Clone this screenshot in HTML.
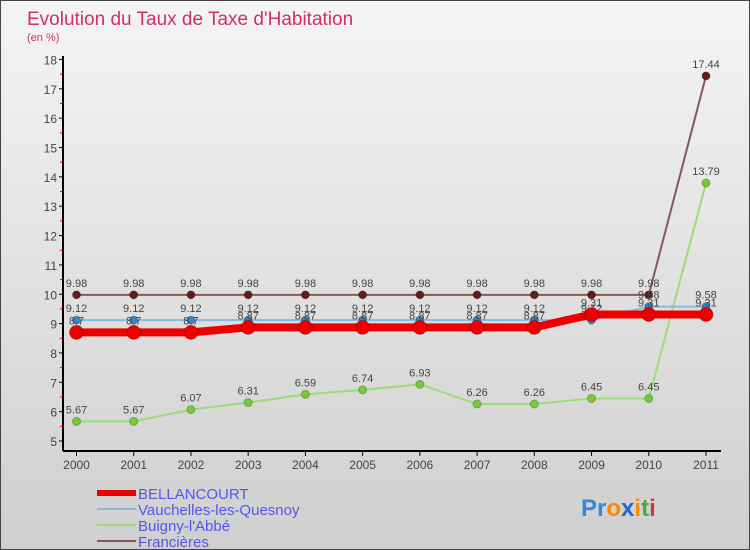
<!DOCTYPE html>
<html><head><meta charset="utf-8"><style>
body{margin:0}
#c{width:750px;height:550px;position:relative;font-family:"Liberation Sans",sans-serif;background:linear-gradient(#f4f4f4,#cfcfcf);box-sizing:border-box;border:1px solid #444;overflow:hidden}
</style></head><body>
<div id="c">
<svg id="s" width="750" height="550" style="position:absolute;left:0;top:0"></svg>
</div>
<script>
const years=["2000","2001","2002","2003","2004","2005","2006","2007","2008","2009","2010","2011"];
const bellancourt=[8.7,8.7,8.7,8.87,8.87,8.87,8.87,8.87,8.87,9.31,9.31,9.31];
const vauchelles=[9.12,9.12,9.12,9.12,9.12,9.12,9.12,9.12,9.12,9.12,9.58,9.58];
const buigny=[5.67,5.67,6.07,6.31,6.59,6.74,6.93,6.26,6.26,6.45,6.45,13.79];
const francieres=[9.98,9.98,9.98,9.98,9.98,9.98,9.98,9.98,9.98,9.98,9.98,17.44];
const yTicks=[5,6,7,8,9,10,11,12,13,14,15,16,17,18];
const NS="http://www.w3.org/2000/svg";
const svg=document.getElementById('s');
function X(i){return 75.5+i*(705-75.5)/11;}
function Y(v){return 440-(v-5)*29.35;}
function el(t,a,p){const e=document.createElementNS(NS,t);for(const k in a)e.setAttribute(k,a[k]);(p||svg).appendChild(e);return e;}
let t=el('text',{x:26,y:24,'font-size':19,fill:'#d0306a'});t.textContent="Evolution du Taux de Taxe d'Habitation";

t=el('text',{x:26,y:40,'font-size':11,fill:'#d0306a'});t.textContent="(en %)";

let a=el('line',{x1:62,y1:55,x2:62,y2:450,stroke:'#000','stroke-width':2});

a=el('line',{x1:62,y1:450,x2:720,y2:450,stroke:'#000','stroke-width':2});

yTicks.forEach(v=>{
 el('line',{x1:58,y1:Y(v),x2:62,y2:Y(v),stroke:'#000'});
 if(v<18)el('line',{x1:59,y1:Y(v+0.5),x2:62,y2:Y(v+0.5),stroke:'#e00'});
 const tt=el('text',{x:56,y:Y(v)+5,'font-size':12,fill:'#444','text-anchor':'end'});tt.textContent=v;
 
});
years.forEach((y,i)=>{
 el('line',{x1:X(i),y1:450,x2:X(i),y2:455,stroke:'#000'});
 const tt=el('text',{x:X(i),y:468,'font-size':12,fill:'#444','text-anchor':'middle'});tt.textContent=y;
 
});
const series=[
 {d:francieres,c:'#8a5555',m:'#661a22',w:2,r:4,n:'francieres'},
 {d:buigny,c:'#99dd77',m:'#77cc33',w:2,r:4,n:'buigny'},
 {d:vauchelles,c:'#88bbdd',m:'#3388cc',w:2,r:4,n:'vauchelles'},
 {d:bellancourt,c:'#ee0000',m:'#ee0000',w:8,r:7,n:'bellancourt'}];
series.forEach(s=>{
 const p=el('polyline',{points:s.d.map((v,i)=>X(i)+','+Y(v)).join(' '),fill:'none',stroke:s.c,'stroke-width':s.w});
 
 s.d.forEach((v,i)=>{
  const c=el('circle',{cx:X(i),cy:Y(v),r:s.r,fill:s.m,stroke:'rgba(0,0,0,0.25)'});
  
  const l=el('text',{x:X(i),y:Y(v)-8,'font-size':11,fill:'#444','text-anchor':'middle'});l.textContent=v;
  
 });
});
const leg=[['BELLANCOURT','#ee0000',6],['Vauchelles-les-Quesnoy','#88bbdd',2],['Buigny-l\'Abbé','#99dd77',2],['Francières','#8a5555',2]];
leg.forEach((L,i)=>{
 const y=492+i*16;
 const g=el('g',{});
 el('line',{x1:96,y1:y,x2:135,y2:y,stroke:L[1],'stroke-width':L[2]},g);
 const tt=el('text',{x:137,y:y+6,'font-size':15,fill:'#5555ee'},g);tt.textContent=L[0];
});
const lg=el('text',{x:580,y:515,'font-size':24,'font-weight':'bold'});

[['P','#3388dd'],['r','#3388dd'],['o','#ff8800'],['x','#2266cc'],['i','#ff8800'],['t','#44aa44'],['i','#dd3333']].forEach(p=>{const s=el('tspan',{fill:p[1]},lg);s.textContent=p[0];});
</script>
</body></html>
